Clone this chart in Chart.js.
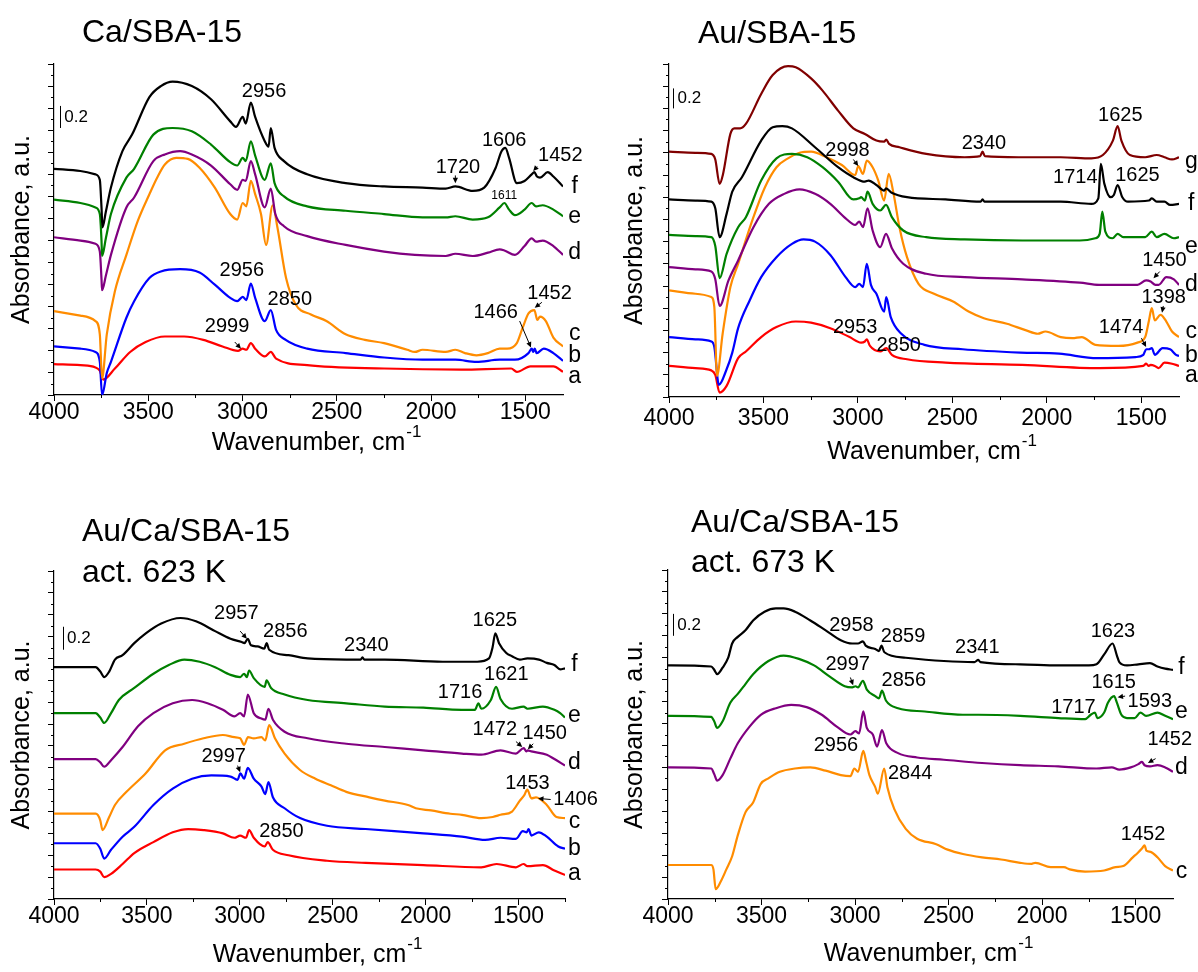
<!DOCTYPE html>
<html>
<head>
<meta charset="utf-8">
<title>IR spectra</title>
<script src="https://cdn.jsdelivr.net/npm/chart.js@4.4.1/dist/chart.umd.min.js"></script>
<style>
  body { margin: 0; background: #fff; }
  #page { position: relative; width: 1198px; height: 972px; overflow: hidden; }
  .panel { position: absolute; width: 599px; height: 486px; }
</style>
</head>
<body>
<div id="page">
  <div class="panel" style="left:0;top:0"><canvas id="p1"></canvas></div>
  <div class="panel" style="left:599px;top:0"><canvas id="p2"></canvas></div>
  <div class="panel" style="left:0;top:486px"><canvas id="p3"></canvas></div>
  <div class="panel" style="left:599px;top:486px"><canvas id="p4"></canvas></div>
</div>
<script>
// spectra: [wavenumber cm-1, absorbance incl. stacking offset]

// Ca/SBA-15
const caF = [[4000,2.05],[3860,2.03],[3780,2.00],[3757,1.95],[3748,1.70],[3743,1.52],[3725,1.66],[3698,1.88],[3637,2.21],[3586,2.36],[3494,2.70],[3433,2.80],[3371,2.84],[3269,2.80],[3167,2.68],[3065,2.48],[3035,2.43],[2999,2.52],[2983,2.46],[2956,2.65],[2933,2.52],[2882,2.30],[2862,2.25],[2850,2.42],[2830,2.24],[2780,2.12],[2657,2.00],[2453,1.92],[2249,1.89],[2045,1.88],[1922,1.87],[1871,1.89],[1779,1.85],[1718,1.88],[1657,2.06],[1626,2.21],[1606,2.24],[1586,2.15],[1545,1.92],[1504,1.94],[1466,2.00],[1452,2.02],[1438,1.98],[1422,1.97],[1381,2.02],[1351,1.98],[1300,1.89]];
const caE = [[4000,1.77],[3860,1.74],[3780,1.70],[3757,1.64],[3748,1.40],[3745,1.26],[3725,1.42],[3698,1.64],[3616,1.97],[3575,2.05],[3473,2.36],[3371,2.42],[3269,2.39],[3167,2.27],[3065,2.11],[3028,2.08],[2999,2.15],[2983,2.12],[2956,2.30],[2933,2.17],[2882,1.95],[2850,2.10],[2830,1.92],[2780,1.80],[2657,1.71],[2453,1.67],[2249,1.64],[2045,1.61],[1922,1.61],[1871,1.62],[1779,1.59],[1698,1.61],[1636,1.70],[1611,1.74],[1586,1.68],[1555,1.63],[1504,1.68],[1466,1.74],[1443,1.71],[1408,1.72],[1351,1.68],[1300,1.62]];
const caD = [[4000,1.43],[3860,1.40],[3780,1.37],[3757,1.30],[3748,1.05],[3745,0.95],[3725,1.08],[3698,1.27],[3616,1.70],[3575,1.79],[3473,2.12],[3412,2.18],[3331,2.21],[3269,2.18],[3167,2.08],[3065,1.91],[3028,1.86],[2999,1.95],[2983,1.94],[2956,2.12],[2933,2.00],[2882,1.70],[2850,1.87],[2826,1.64],[2780,1.53],[2657,1.44],[2453,1.36],[2249,1.30],[2086,1.27],[1922,1.26],[1871,1.28],[1779,1.26],[1698,1.29],[1636,1.32],[1611,1.31],[1555,1.27],[1504,1.35],[1466,1.42],[1443,1.39],[1408,1.40],[1351,1.35],[1300,1.27]];
const caC = [[4000,0.76],[3860,0.72],[3780,0.67],[3757,0.55],[3745,0.15],[3720,0.55],[3677,0.94],[3616,1.27],[3555,1.58],[3494,1.82],[3453,1.97],[3412,2.09],[3351,2.15],[3290,2.14],[3228,2.06],[3147,1.88],[3065,1.64],[3028,1.59],[2999,1.74],[2980,1.71],[2956,1.94],[2933,1.82],[2902,1.64],[2875,1.36],[2840,1.72],[2815,1.52],[2769,1.06],[2718,0.82],[2637,0.73],[2555,0.67],[2453,0.55],[2351,0.50],[2249,0.47],[2126,0.41],[2086,0.39],[2045,0.41],[1922,0.39],[1871,0.41],[1820,0.38],[1759,0.36],[1698,0.38],[1636,0.42],[1596,0.42],[1545,0.47],[1514,0.61],[1483,0.74],[1452,0.77],[1436,0.68],[1422,0.71],[1391,0.67],[1351,0.52],[1300,0.44]];
const caB = [[4000,0.44],[3860,0.42],[3780,0.39],[3757,0.30],[3745,0.00],[3720,0.20],[3698,0.30],[3616,0.70],[3575,0.85],[3494,1.06],[3433,1.12],[3331,1.14],[3228,1.11],[3147,1.00],[3065,0.88],[3028,0.85],[2999,0.89],[2980,0.86],[2956,1.01],[2933,0.88],[2882,0.67],[2850,0.77],[2822,0.59],[2771,0.50],[2657,0.42],[2453,0.38],[2249,0.34],[2045,0.32],[1871,0.32],[1759,0.30],[1636,0.32],[1555,0.32],[1483,0.38],[1466,0.42],[1458,0.39],[1450,0.42],[1440,0.38],[1402,0.42],[1351,0.38],[1300,0.31]];
const caA = [[4000,0.28],[3860,0.27],[3780,0.25],[3757,0.22],[3739,0.14],[3677,0.24],[3596,0.39],[3514,0.48],[3412,0.53],[3310,0.53],[3208,0.50],[3106,0.44],[3024,0.40],[2999,0.42],[2980,0.41],[2956,0.47],[2933,0.42],[2882,0.35],[2850,0.39],[2822,0.33],[2657,0.27],[2249,0.24],[1840,0.23],[1575,0.24],[1545,0.21],[1473,0.26],[1351,0.26],[1300,0.21]];

// Au/SBA-15
const auG = [[4000,2.21],[3860,2.20],[3776,2.19],[3755,2.14],[3732,1.92],[3715,2.00],[3675,2.37],[3654,2.42],[3624,2.42],[3593,2.46],[3512,2.73],[3451,2.90],[3370,2.98],[3329,2.97],[3248,2.87],[3187,2.76],[3105,2.58],[3024,2.42],[2963,2.37],[2902,2.31],[2861,2.30],[2850,2.32],[2835,2.28],[2780,2.25],[2638,2.19],[2435,2.16],[2353,2.17],[2340,2.21],[2328,2.17],[2150,2.16],[1926,2.16],[1764,2.15],[1703,2.18],[1650,2.31],[1625,2.44],[1605,2.31],[1560,2.18],[1479,2.16],[1418,2.18],[1377,2.16],[1337,2.14],[1300,2.16]];
const auF = [[4000,1.78],[3860,1.77],[3776,1.76],[3755,1.70],[3732,1.44],[3695,1.65],[3665,1.85],[3614,1.98],[3512,2.31],[3451,2.43],[3400,2.44],[3349,2.42],[3227,2.25],[3105,2.07],[3024,1.98],[2963,1.94],[2943,1.95],[2902,1.91],[2861,1.86],[2851,1.88],[2821,1.84],[2740,1.80],[2536,1.78],[2350,1.76],[2340,1.78],[2330,1.76],[2130,1.76],[1926,1.76],[1764,1.74],[1727,1.79],[1714,2.10],[1695,1.92],[1662,1.80],[1645,1.82],[1625,1.91],[1600,1.80],[1570,1.76],[1459,1.77],[1444,1.79],[1418,1.76],[1377,1.76],[1347,1.73],[1300,1.74]];
const auE = [[4000,1.46],[3860,1.45],[3776,1.44],[3755,1.36],[3732,1.07],[3695,1.29],[3634,1.53],[3593,1.62],[3512,1.95],[3431,2.15],[3349,2.19],[3268,2.16],[3187,2.07],[3105,1.94],[3024,1.78],[2993,1.79],[2983,1.80],[2963,1.77],[2949,1.85],[2922,1.74],[2882,1.68],[2851,1.73],[2820,1.62],[2760,1.50],[2638,1.44],[2435,1.42],[2130,1.41],[1825,1.41],[1743,1.43],[1720,1.47],[1706,1.67],[1690,1.49],[1652,1.43],[1625,1.47],[1595,1.44],[1479,1.44],[1444,1.49],[1418,1.44],[1377,1.47],[1327,1.43],[1300,1.44]];
const auD = [[4000,1.17],[3860,1.15],[3776,1.13],[3755,1.06],[3732,0.82],[3685,1.05],[3634,1.23],[3553,1.53],[3471,1.74],[3390,1.83],[3309,1.87],[3227,1.83],[3146,1.74],[3065,1.61],[3014,1.55],[2993,1.58],[2973,1.53],[2949,1.70],[2922,1.50],[2882,1.35],[2851,1.47],[2820,1.34],[2760,1.20],[2638,1.11],[2435,1.08],[2130,1.06],[1825,1.03],[1723,1.01],[1520,1.01],[1474,1.05],[1450,1.04],[1425,1.01],[1408,1.01],[1367,1.08],[1327,1.06],[1300,1.01]];
const auC = [[4000,0.96],[3860,0.93],[3776,0.90],[3760,0.81],[3746,0.19],[3716,0.57],[3675,0.99],[3634,1.20],[3553,1.62],[3492,1.89],[3431,2.07],[3370,2.15],[3309,2.20],[3248,2.21],[3166,2.16],[3085,2.09],[3014,2.00],[2998,2.08],[2973,2.01],[2953,2.13],[2922,2.07],[2892,1.95],[2861,1.77],[2837,2.01],[2811,1.83],[2780,1.53],[2740,1.26],[2679,1.02],[2597,0.93],[2496,0.86],[2414,0.77],[2333,0.71],[2211,0.66],[2109,0.60],[2048,0.57],[2007,0.59],[1926,0.54],[1865,0.53],[1815,0.54],[1743,0.47],[1621,0.46],[1520,0.49],[1479,0.54],[1459,0.69],[1444,0.80],[1428,0.69],[1398,0.74],[1367,0.68],[1337,0.59],[1300,0.54]];
const auB = [[4000,0.54],[3860,0.52],[3776,0.50],[3760,0.45],[3736,0.11],[3695,0.25],[3665,0.40],[3634,0.62],[3573,0.87],[3512,1.08],[3431,1.26],[3349,1.38],[3288,1.42],[3227,1.40],[3146,1.28],[3065,1.08],[3014,0.99],[2993,1.02],[2973,0.99],[2953,1.20],[2931,1.01],[2902,0.93],[2861,0.77],[2850,0.90],[2826,0.72],[2770,0.57],[2648,0.47],[2445,0.43],[2140,0.40],[1935,0.39],[1733,0.35],[1530,0.36],[1489,0.38],[1474,0.43],[1459,0.43],[1444,0.44],[1428,0.38],[1387,0.44],[1347,0.43],[1316,0.38],[1300,0.37]];
const auA = [[4000,0.28],[3860,0.26],[3776,0.24],[3755,0.20],[3732,0.04],[3695,0.10],[3634,0.35],[3593,0.41],[3512,0.54],[3431,0.63],[3329,0.68],[3248,0.67],[3146,0.62],[3044,0.54],[2983,0.49],[2963,0.50],[2953,0.52],[2936,0.46],[2882,0.41],[2850,0.44],[2820,0.38],[2740,0.34],[2536,0.31],[2130,0.29],[1720,0.26],[1489,0.28],[1474,0.30],[1460,0.28],[1450,0.29],[1428,0.28],[1408,0.26],[1377,0.31],[1337,0.30],[1300,0.28]];

// Au/Ca/SBA-15, activated at 623 K
const a623F = [[4000,2.12],[3776,2.12],[3751,2.08],[3730,2.03],[3703,2.08],[3672,2.19],[3631,2.23],[3568,2.34],[3506,2.43],[3423,2.52],[3319,2.57],[3236,2.54],[3133,2.45],[3050,2.38],[2990,2.35],[2975,2.34],[2957,2.38],[2940,2.32],[2905,2.31],[2868,2.29],[2856,2.34],[2842,2.28],[2738,2.23],[2635,2.20],[2427,2.19],[2350,2.19],[2340,2.21],[2330,2.19],[2220,2.19],[1908,2.17],[1722,2.17],[1659,2.20],[1640,2.30],[1625,2.43],[1605,2.34],[1566,2.25],[1535,2.22],[1493,2.19],[1452,2.20],[1390,2.19],[1348,2.16],[1307,2.14],[1276,2.10],[1250,2.11]];
const a623E = [[4000,1.70],[3776,1.70],[3751,1.66],[3730,1.61],[3693,1.70],[3651,1.82],[3568,1.93],[3465,2.06],[3382,2.14],[3299,2.19],[3216,2.17],[3133,2.12],[3050,2.05],[2998,2.03],[2977,2.06],[2962,2.03],[2950,2.09],[2925,2.02],[2866,1.94],[2856,2.00],[2832,1.93],[2759,1.87],[2635,1.82],[2427,1.79],[2220,1.76],[2012,1.75],[1805,1.73],[1735,1.73],[1716,1.79],[1700,1.74],[1649,1.82],[1621,1.94],[1597,1.83],[1535,1.74],[1473,1.76],[1452,1.74],[1369,1.76],[1307,1.73],[1276,1.70],[1250,1.66]];
const a623D = [[4000,1.28],[3776,1.28],[3751,1.25],[3730,1.21],[3693,1.27],[3631,1.39],[3548,1.58],[3465,1.70],[3361,1.79],[3257,1.82],[3174,1.79],[3091,1.73],[3029,1.67],[2998,1.70],[2977,1.67],[2957,1.87],[2925,1.70],[2884,1.65],[2863,1.64],[2846,1.74],[2822,1.64],[2759,1.53],[2635,1.47],[2427,1.42],[2220,1.39],[2012,1.36],[1805,1.33],[1700,1.32],[1597,1.36],[1514,1.33],[1472,1.38],[1458,1.35],[1450,1.36],[1431,1.35],[1348,1.32],[1307,1.28],[1250,1.22]];
const a623C = [[4000,0.78],[3776,0.78],[3751,0.72],[3739,0.63],[3703,0.75],[3672,0.86],[3610,0.98],[3506,1.15],[3402,1.36],[3299,1.42],[3195,1.47],[3091,1.50],[3029,1.48],[2998,1.47],[2977,1.41],[2956,1.48],[2925,1.47],[2884,1.48],[2863,1.45],[2842,1.59],[2811,1.47],[2759,1.33],[2676,1.18],[2593,1.10],[2510,1.04],[2427,0.98],[2303,0.93],[2220,0.90],[2095,0.86],[2053,0.83],[1971,0.81],[1867,0.78],[1805,0.77],[1701,0.74],[1639,0.75],[1597,0.77],[1535,0.80],[1493,0.90],[1469,0.95],[1453,1.00],[1431,0.92],[1406,0.93],[1348,0.86],[1296,0.75],[1250,0.74]];
const a623B = [[4000,0.51],[3776,0.51],[3751,0.46],[3730,0.37],[3693,0.45],[3631,0.57],[3568,0.66],[3465,0.86],[3361,1.01],[3257,1.10],[3153,1.13],[3050,1.12],[3012,1.09],[2997,1.15],[2977,1.10],[2957,1.20],[2925,1.10],[2884,1.03],[2863,0.96],[2846,1.07],[2822,0.93],[2759,0.83],[2676,0.74],[2531,0.67],[2323,0.64],[2012,0.60],[1805,0.57],[1680,0.54],[1597,0.56],[1514,0.55],[1477,0.62],[1456,0.61],[1446,0.64],[1431,0.58],[1391,0.61],[1348,0.57],[1286,0.48],[1250,0.46]];
const a623A = [[4000,0.27],[3776,0.27],[3751,0.25],[3730,0.20],[3693,0.23],[3631,0.32],[3568,0.42],[3465,0.52],[3361,0.61],[3278,0.64],[3195,0.63],[3091,0.60],[3029,0.56],[2998,0.58],[2967,0.56],[2950,0.63],[2925,0.56],[2866,0.48],[2850,0.52],[2822,0.45],[2738,0.40],[2531,0.35],[2323,0.33],[2012,0.31],[1701,0.29],[1618,0.32],[1514,0.29],[1473,0.32],[1452,0.30],[1369,0.31],[1307,0.26],[1250,0.22]];

// Au/Ca/SBA-15, activated at 673 K
const a673F = [[4000,2.13],[3769,2.12],[3753,2.09],[3737,2.05],[3708,2.11],[3678,2.20],[3657,2.33],[3627,2.39],[3586,2.45],[3545,2.54],[3484,2.62],[3423,2.65],[3382,2.65],[3321,2.62],[3239,2.54],[3157,2.45],[3076,2.36],[3015,2.33],[2984,2.33],[2958,2.35],[2943,2.31],[2892,2.28],[2872,2.26],[2859,2.31],[2843,2.25],[2729,2.20],[2525,2.17],[2362,2.16],[2341,2.18],[2330,2.16],[2117,2.14],[1913,2.13],[1750,2.13],[1709,2.14],[1668,2.23],[1623,2.33],[1600,2.22],[1587,2.16],[1546,2.13],[1485,2.14],[1423,2.15],[1383,2.12],[1342,2.10],[1300,2.09]];
const a673E = [[4000,1.67],[3769,1.66],[3753,1.62],[3737,1.56],[3708,1.62],[3667,1.79],[3627,1.87],[3586,1.96],[3545,2.05],[3463,2.17],[3382,2.22],[3300,2.19],[3219,2.13],[3137,2.03],[3055,1.94],[3015,1.93],[2997,1.94],[2984,1.93],[2958,1.99],[2937,1.91],[2892,1.85],[2872,1.83],[2856,1.90],[2835,1.81],[2770,1.74],[2627,1.71],[2423,1.68],[2341,1.68],[2117,1.67],[1913,1.65],[1770,1.64],[1740,1.68],[1717,1.70],[1705,1.65],[1668,1.70],[1648,1.79],[1615,1.85],[1600,1.79],[1576,1.68],[1546,1.65],[1505,1.65],[1474,1.70],[1444,1.67],[1383,1.70],[1342,1.67],[1300,1.64]];
const a673D = [[4000,1.20],[3769,1.19],[3753,1.14],[3737,1.08],[3708,1.13],[3667,1.28],[3627,1.42],[3565,1.57],[3504,1.68],[3423,1.74],[3341,1.77],[3259,1.75],[3178,1.68],[3096,1.57],[3025,1.50],[2998,1.53],[2978,1.51],[2956,1.71],[2937,1.56],[2905,1.50],[2882,1.39],[2856,1.54],[2833,1.42],[2770,1.33],[2668,1.29],[2525,1.27],[2321,1.24],[2117,1.22],[1913,1.21],[1709,1.19],[1627,1.20],[1587,1.18],[1526,1.20],[1485,1.23],[1466,1.25],[1452,1.22],[1423,1.21],[1383,1.22],[1342,1.20],[1300,1.16]];
const a673C = [[4000,0.31],[3769,0.31],[3757,0.27],[3745,0.09],[3718,0.16],[3688,0.27],[3657,0.39],[3627,0.58],[3586,0.79],[3545,0.88],[3504,1.05],[3463,1.10],[3402,1.16],[3321,1.19],[3239,1.20],[3157,1.17],[3076,1.13],[3025,1.12],[3004,1.19],[2984,1.16],[2956,1.35],[2939,1.24],[2923,1.13],[2892,1.02],[2878,0.96],[2844,1.19],[2827,1.02],[2790,0.82],[2729,0.64],[2668,0.55],[2566,0.50],[2505,0.45],[2423,0.41],[2321,0.38],[2219,0.36],[2117,0.33],[2056,0.32],[2036,0.33],[1954,0.29],[1883,0.29],[1852,0.27],[1770,0.25],[1668,0.26],[1607,0.29],[1566,0.30],[1515,0.38],[1489,0.42],[1466,0.46],[1452,0.49],[1442,0.44],[1420,0.43],[1383,0.38],[1342,0.30],[1300,0.26]];

// labelled wavenumber ticks
const wnTicks = [1500, 2000, 2500, 3000, 3500, 4000];

const COLORS = { a: '#ff0000', b: '#0000ff', c: '#ff8c00', d: '#800080', e: '#008000', f: '#000000', g: '#800000' };
const FONT = '"Liberation Sans", Arial, Helvetica, sans-serif';
Chart.defaults.font.family = FONT;
Chart.defaults.color = '#000';

const panels = [
  {
    id: 'p1', xMin: 1300,
    pad: { left: 9.5, top: 64, right: 36, bottom: 30 }, yWidth: 44.5, xHeight: 61, tickPad: 0,
    heading: [['Ca/SBA-15', 82, 42]],
    series: [['f', caF], ['e', caE], ['d', caD], ['c', caC], ['b', caB], ['a', caA]],
    bar: [3968, 2.42, 2.62, 3945],
    peaks: [['2956', 2886, 2.75], ['1720', 1857, 2.06], ['1606', 1612, 2.31], ['1452', 1314, 2.17], ['1611', 1612, 1.81, 12],
            ['2956', 3004, 1.13], ['2850', 2749, 0.87], ['2999', 3082, 0.62], ['1466', 1657, 0.75], ['1452', 1371, 0.92]],
    arrows: [[1871, 1.99, 1871, 1.92], [1437, 2.07, 1458, 2.03], [3041, 0.48, 3008, 0.42], [1530, 0.67, 1470, 0.43], [1412, 0.84, 1450, 0.79]],
    letterWn: 1238,
    letters: [['f', 1.89], ['e', 1.62], ['d', 1.29], ['c', 0.56], ['b', 0.36], ['a', 0.17]]
  },
  {
    id: 'p2', xMin: 1300,
    pad: { left: 24, top: 64, right: 19, bottom: 21 }, yWidth: 46, xHeight: 68, tickPad: 4,
    heading: [['Au/SBA-15', 99, 43]],
    series: [['g', auG], ['f', auF], ['e', auE], ['d', auD], ['c', auC], ['b', auB], ['a', auA]],
    bar: [3979, 2.60, 2.78, 3955],
    peaks: [['1625', 1611, 2.54], ['2340', 2333, 2.28], ['2998', 3055, 2.22], ['1714', 1849, 1.98], ['1625', 1520, 2.00],
            ['1450', 1377, 1.23], ['1398', 1381, 0.90], ['1474', 1607, 0.63], ['2953', 3014, 0.63], ['2850', 2784, 0.46]],
    arrows: [[3024, 2.14, 2998, 2.08], [1402, 1.13, 1435, 1.07], [1383, 0.82, 1390, 0.76], [1499, 0.53, 1474, 0.45]],
    letterWn: 1235,
    letters: [['g', 2.12], ['f', 1.74], ['e', 1.35], ['d', 1.01], ['c', 0.59], ['b', 0.37], ['a', 0.19]]
  },
  {
    id: 'p3', xMin: 1250,
    pad: { left: 9.5, top: 85, right: 34, bottom: 4 }, yWidth: 44.5, xHeight: 69, tickPad: 0,
    heading: [['Au/Ca/SBA-15', 82, 55], ['act. 623 K', 82, 96]],
    series: [['f', a623F], ['e', a623E], ['d', a623D], ['c', a623C], ['b', a623B], ['a', a623A]],
    bar: [3952, 2.28, 2.49, 3930],
    peaks: [['2957', 3019, 2.61], ['2856', 2755, 2.45], ['2340', 2319, 2.32], ['1625', 1628, 2.55], ['1716', 1815, 1.89],
            ['1621', 1566, 2.05], ['1472', 1628, 1.55], ['1450', 1359, 1.51], ['1453', 1452, 1.06], ['1406', 1193, 0.91],
            ['2997', 3087, 1.30], ['2850', 2776, 0.62]],
    arrows: [[2998, 2.45, 2962, 2.38], [1514, 1.44, 1480, 1.39], [1421, 1.42, 1450, 1.37], [1327, 0.91, 1395, 0.92], [3012, 1.22, 2998, 1.16]],
    letterWn: 1199,
    letters: [['f', 2.14], ['e', 1.68], ['d', 1.25], ['c', 0.71], ['b', 0.46], ['a', 0.23]]
  },
  {
    id: 'p4', xMin: 1300,
    pad: { left: 24, top: 84, right: 25, bottom: 5.5 }, yWidth: 45, xHeight: 67.5, tickPad: 0,
    heading: [['Au/Ca/SBA-15', 92, 46], ['act. 673 K', 92, 86]],
    series: [['f', a673F], ['e', a673E], ['d', a673D], ['c', a673C]],
    bar: [3975, 2.40, 2.60, 3950],
    peaks: [['2958', 3019, 2.49], ['2859', 2743, 2.39], ['2341', 2346, 2.29], ['1623', 1621, 2.44], ['2997', 3039, 2.14],
            ['2856', 2739, 1.99], ['1615', 1617, 1.97], ['1717', 1832, 1.75], ['1593', 1424, 1.80], ['1452', 1317, 1.45],
            ['2956', 3102, 1.40], ['2844', 2705, 1.14], ['1452', 1460, 0.59]],
    arrows: [[3025, 2.02, 3010, 1.95], [1556, 1.85, 1596, 1.84], [1393, 1.28, 1434, 1.24]],
    letterWn: 1255,
    letters: [['f', 2.11], ['e', 1.71], ['d', 1.20], ['c', 0.25]]
  }
];

function arrow(ctx, x1, y1, x2, y2) {
  const ang = Math.atan2(y2 - y1, x2 - x1);
  const h = 6;
  ctx.beginPath();
  ctx.moveTo(x1, y1);
  ctx.lineTo(x2 - Math.cos(ang) * h * 0.7, y2 - Math.sin(ang) * h * 0.7);
  ctx.stroke();
  ctx.beginPath();
  ctx.moveTo(x2, y2);
  ctx.lineTo(x2 - h * Math.cos(ang - 0.45), y2 - h * Math.sin(ang - 0.45));
  ctx.lineTo(x2 - h * Math.cos(ang + 0.45), y2 - h * Math.sin(ang + 0.45));
  ctx.closePath();
  ctx.fill();
}

// minor ticks, scale bar, peak labels, curve letters, heading
function decor(p) {
  return {
    id: 'decor',
    afterDraw(chart) {
      const { ctx, chartArea: area, scales: { x, y } } = chart;
      const px = v => x.getPixelForValue(v);
      const py = v => y.getPixelForValue(v);
      ctx.save();
      ctx.fillStyle = '#000';
      ctx.strokeStyle = '#000';
      ctx.lineWidth = 1;

      ctx.beginPath();
      for (let w = Math.ceil(x.min / 250) * 250; w <= x.max; w += 250) {
        if (w % 500 === 0) continue;
        const xx = Math.round(px(w)) + 0.5;
        ctx.moveTo(xx, area.bottom);
        ctx.lineTo(xx, area.bottom + 3);
      }
      for (let k = 1; k < 30; k += 2) {
        const yy = Math.round(py(k / 10)) + 0.5;
        ctx.moveTo(area.left, yy);
        ctx.lineTo(area.left - 3, yy);
      }
      ctx.stroke();

      const [bw, lo, hi, tw] = p.bar;
      const bx = Math.round(px(bw)) + 0.5;
      ctx.beginPath();
      ctx.moveTo(bx, py(lo));
      ctx.lineTo(bx, py(hi));
      ctx.stroke();
      ctx.font = '17px ' + FONT;
      ctx.textAlign = 'left';
      ctx.textBaseline = 'middle';
      ctx.fillText('0.2', px(tw), py((lo + hi) / 2));

      ctx.textAlign = 'center';
      p.peaks.forEach(([t, w, a, size]) => {
        ctx.font = (size || 20) + 'px ' + FONT;
        ctx.fillText(t, px(w), py(a));
      });
      p.arrows.forEach(([w1, a1, w2, a2]) => arrow(ctx, px(w1), py(a1), px(w2), py(a2)));

      ctx.font = '23px ' + FONT;
      p.letters.forEach(([t, a]) => ctx.fillText(t, px(p.letterWn), py(a)));

      // "-1" exponent after the x title
      ctx.font = '25px ' + FONT;
      const tw2 = ctx.measureText('Wavenumber, cm').width;
      ctx.font = '17px ' + FONT;
      ctx.textAlign = 'left';
      ctx.fillText('-1', (area.left + area.right) / 2 + tw2 / 2 + 1, x.bottom - 12.5 - 11);

      ctx.font = '32px ' + FONT;
      ctx.textBaseline = 'alphabetic';
      p.heading.forEach(([t, hx, hy]) => ctx.fillText(t, hx, hy));
      ctx.restore();
    }
  };
}

function makeChart(p) {
  const axisLine = { color: '#000', width: 1.2 };
  const grid = { drawOnChartArea: false, drawTicks: true, tickLength: 6, color: '#000', tickColor: '#000', tickWidth: 1 };
  return new Chart(document.getElementById(p.id), {
    type: 'line',
    data: {
      datasets: p.series.map(([key, pts]) => ({
        label: key,
        data: pts.map(([w, a]) => ({ x: w, y: a })),
        borderColor: COLORS[key],
        borderWidth: 2.2,
        pointRadius: 0,
        fill: false,
        cubicInterpolationMode: 'monotone'
      }))
    },
    options: {
      responsive: true,
      maintainAspectRatio: false,
      animation: false,
      events: [],
      layout: { padding: p.pad },
      plugins: { legend: { display: false }, tooltip: { enabled: false } },
      scales: {
        x: {
          type: 'linear', reverse: true, min: p.xMin, max: 4000,
          afterFit: s => { s.height = p.xHeight; },
          afterBuildTicks: s => { s.ticks = wnTicks.map(v => ({ value: v })); },
          ticks: { autoSkip: false, maxRotation: 0, padding: p.tickPad, callback: v => String(v),
                   color: '#000', font: { size: 23, lineHeight: 1 } },
          grid, border: axisLine,
          title: { display: true, text: 'Wavenumber, cm', color: '#000', padding: 0, font: { size: 25, lineHeight: 1 } }
        },
        y: {
          type: 'linear', min: 0, max: 3,
          afterFit: s => { s.width = p.yWidth; },
          ticks: { display: false, stepSize: 0.2, maxTicksLimit: 100 },
          grid, border: axisLine,
          title: { display: true, text: 'Absorbance, a.u.', color: '#000', padding: 0, font: { size: 25, lineHeight: 1 } }
        }
      }
    },
    plugins: [decor(p)]
  });
}

panels.forEach(makeChart);
</script>
</body>
</html>
